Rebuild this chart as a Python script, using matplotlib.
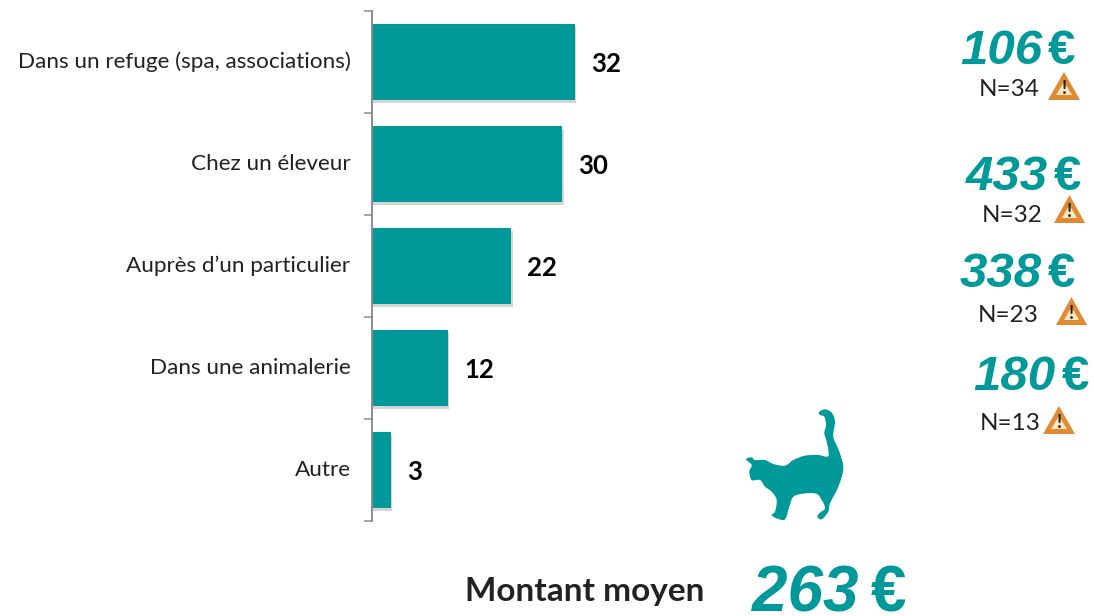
import matplotlib
matplotlib.use('Agg')
import matplotlib.pyplot as plt
import matplotlib.patheffects as pe
from matplotlib.patches import Polygon, PathPatch
from matplotlib.path import Path

categories = ['Dans un refuge (spa, associations)', 'Chez un éleveur',
              'Auprès d’un particulier', 'Dans une animalerie', 'Autre']
values = [32, 30, 22, 12, 3]
amounts = ['106', '433', '338', '180']
counts = ['N=34', 'N=32', 'N=23', 'N=13']
total_label = 'Montant moyen'
total_amount = '263'

teal = '#009999'
W, H = 1094, 616
plt.rcParams['font.family'] = ['Lato', 'DejaVu Sans']

fig = plt.figure(figsize=(W / 100, H / 100), dpi=100)

# axes spans the five category bands, 11px -> 521px
ax = fig.add_axes([372 / W, 1 - 521 / H, 400 / W, 510 / H])
ypos = list(range(len(values)))
bars = ax.barh(ypos, values, height=0.74, color=teal)
for b in bars:
    b.set_path_effects([pe.SimplePatchShadow(offset=(1, -2), shadow_rgbFace='#777777', alpha=0.3),
                        pe.Normal()])
ax.set_ylim(4.5, -0.5)
ax.set_xlim(0, 63.1)
ax.set_xticks([])
ax.set_yticks([i - 0.5 for i in range(6)])
ax.set_yticklabels([])
ax.tick_params(axis='y', length=5.5, color='#8c8c8c', width=1.1)
for s in ['top', 'right', 'bottom']:
    ax.spines[s].set_visible(False)
ax.spines['left'].set_color('#8c8c8c')
ax.spines['left'].set_linewidth(1.4)


def px(x, y, s, **kw):
    fig.text(x / W, 1 - y / H, s, **kw)


for i, (c, v) in enumerate(zip(categories, values)):
    ax.annotate(c, (0, i), xytext=(-15.5, 0), textcoords='offset points', ha='right',
                va='center', fontsize=16.2, color='#222222')
    ax.annotate(str(v), (v, i), xytext=(11.5, -1.5), textcoords='offset points', ha='left',
                va='center', fontsize=18.5, fontweight='bold', color='black')


def warn(x0, x1, y):
    # warning sign: orange triangle, pale centre, dark mark
    h = 28
    mid = (x0 + x1) / 2
    def tri(a, b, top, bottom):
        return [(a / W, 1 - bottom / H), (b / W, 1 - bottom / H), (mid / W, 1 - top / H)]
    fig.add_artist(Polygon(tri(x0, x1, y - h, y), closed=True, transform=fig.transFigure,
                           facecolor='#e08a34', edgecolor='none'))
    fig.add_artist(Polygon(tri(x0 + 8, x1 - 8, y - h + 10, y - 5), closed=True, transform=fig.transFigure,
                           facecolor='#fbe7c0', edgecolor='none'))
    px(mid, y - 3, '!', ha='center', va='bottom', fontsize=13, fontweight='bold', color='#222222')


num_right = [1042, 1048, 1042, 1055]
euro_left = [1048, 1054, 1048, 1062]
amount_base = [64, 190, 287, 390]
count_x = [1009, 1012, 1008, 1010]
count_y = [90, 215, 315, 424]
warn_x0 = [1048, 1054, 1056, 1043]
warn_x1 = [1080, 1085, 1087, 1075]
warn_y = [100, 223, 325, 434]
for i in range(4):
    px(num_right[i], amount_base[i], amounts[i], ha='right', va='baseline', fontsize=35.5,
       fontweight='bold', style='italic', color=teal, family=['Liberation Sans'])
    px(euro_left[i], amount_base[i], '€', ha='left', va='baseline', fontsize=35.5,
       fontweight='bold', color=teal, family=['Liberation Sans'])
    px(count_x[i], count_y[i], counts[i], ha='center', va='center', fontsize=17.5, color='#222222')
    warn(warn_x0[i], warn_x1[i], warn_y[i])

px(584.5, 592, total_label, ha='center', va='center', fontsize=24, fontweight='bold', color='#222222')
px(858, 611, total_amount, ha='right', va='baseline', fontsize=46, fontweight='bold',
   style='italic', color=teal, family=['Liberation Sans'])
px(871, 611, '€', ha='left', va='baseline', fontsize=46, fontweight='bold',
   color=teal, family=['Liberation Sans'])

cat = [(48, 178), (65, 172), (75, 180), (105, 180), (130, 192), (165, 197), (190, 180),
       (225, 167), (265, 165), (295, 168), (290, 125), (283, 100), (288, 75), (283, 50),
       (270, 45), (268, 35), (285, 28), (305, 38), (315, 65), (310, 110), (328, 155),
       (340, 205), (325, 260), (300, 310), (295, 335), (275, 358), (262, 350), (270, 338),
       (285, 325), (275, 300), (255, 280), (195, 287), (178, 320), (165, 358), (140, 355),
       (125, 345), (135, 335), (140, 300), (125, 275), (105, 260), (90, 240), (65, 240),
       (58, 215), (65, 195)]
pts = [((730 + x / 3) / W, 1 - (400 + y / 3) / H) for x, y in cat]
n = len(pts)
# closed curve that goes through every outline point
verts = [pts[0]]
codes = [Path.MOVETO]
for i in range(n):
    p0, p1, p2, p3 = pts[i - 1], pts[i], pts[(i + 1) % n], pts[(i + 2) % n]
    c1 = (p1[0] + (p2[0] - p0[0]) / 6, p1[1] + (p2[1] - p0[1]) / 6)
    c2 = (p2[0] - (p3[0] - p1[0]) / 6, p2[1] - (p3[1] - p1[1]) / 6)
    verts += [c1, c2, p2]
    codes += [Path.CURVE4, Path.CURVE4, Path.CURVE4]
fig.add_artist(PathPatch(Path(verts, codes), transform=fig.transFigure, facecolor=teal,
                         edgecolor='none'))

fig.savefig('out.png', dpi=100)
